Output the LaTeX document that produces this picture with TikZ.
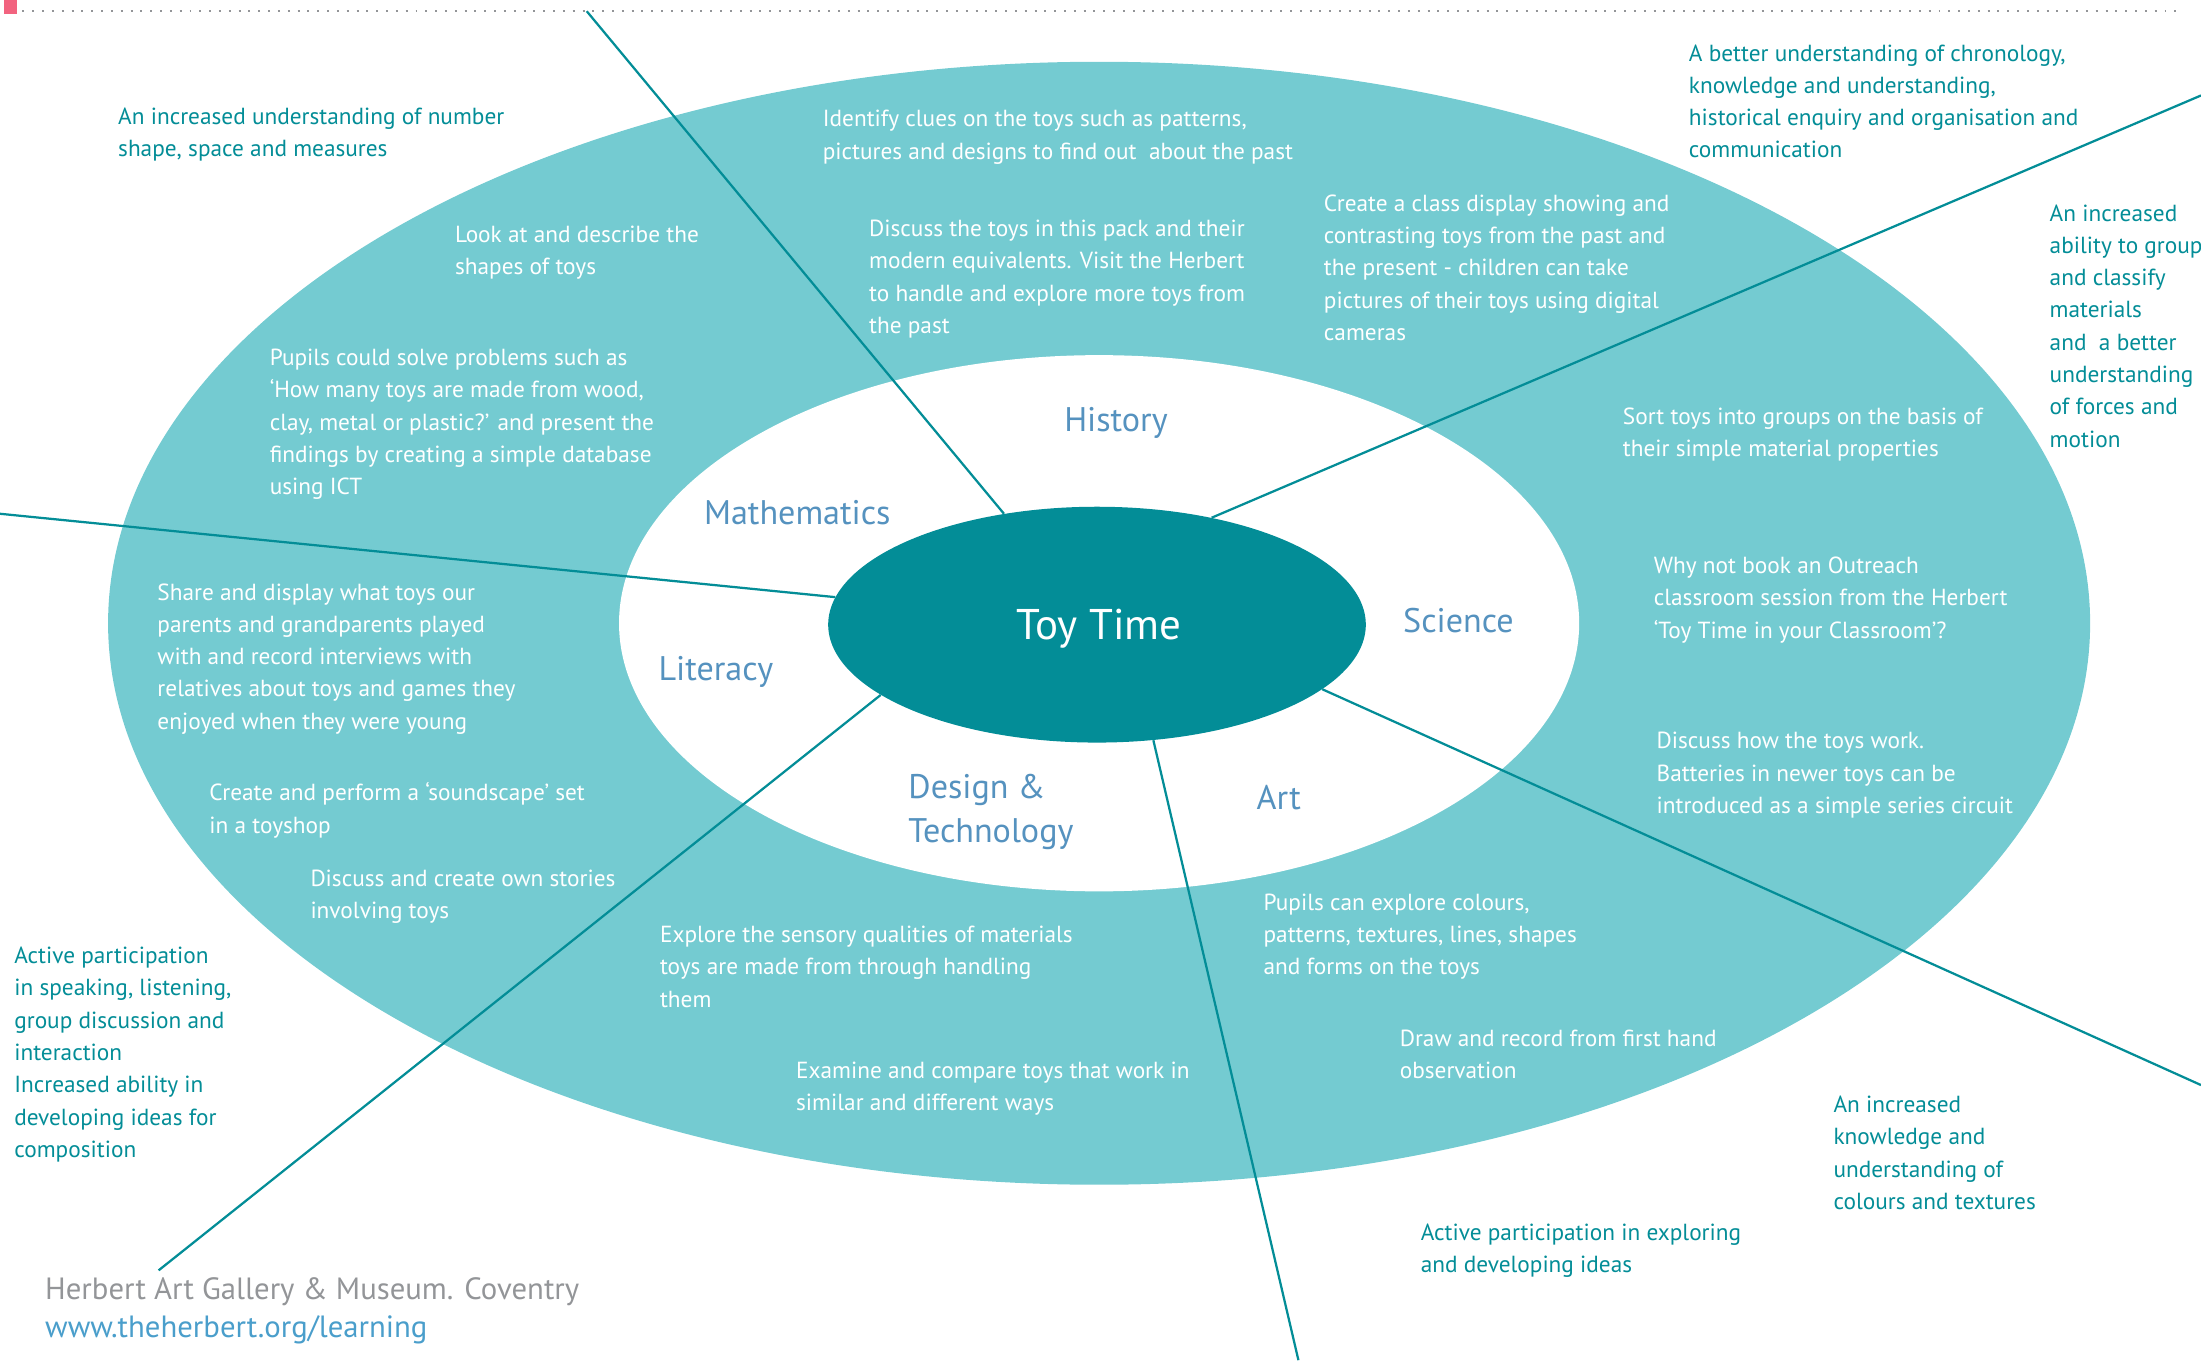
\documentclass[tikz,border=0pt]{standalone}
\usepackage{fontspec}
\setmainfont{PT Sans}
\usepackage{tikz}
\usetikzlibrary{shapes.geometric}
\usepackage{xcolor}
\definecolor{turquoise}{HTML}{74CBD1}
\definecolor{canard}{HTML}{038D97}
\definecolor{bleu}{HTML}{5592BF}
\definecolor{gris}{HTML}{939598}
\definecolor{lien}{HTML}{4A9ECB}
\definecolor{rose}{HTML}{F2637F}

\begin{document}
\begin{tikzpicture}[x = 1pt, y = -1pt,
    texte/.style = {anchor = north west, align = left, inner sep = 0pt,
        font = \fontsize{16.6}{23}\selectfont},
    blanc/.style = {texte, text = white},
    dehors/.style = {texte, text = canard},
    matiere/.style = {inner sep = 0pt, text = bleu,
        font = \fontsize{24.3}{32}\selectfont},
    trait/.style = {draw = canard, line width = 1.6pt}]
\useasboundingbox (0, 0) rectangle (1568, 969);

% Filet pointillé du haut
\fill[rose] (3, 0) rectangle (12, 10);
\draw[gris, line width = 1.4pt, dash pattern = on 1.4pt off 5.6pt] (16, 8) -- (1550, 8);

% Les trois ellipses
\node[ellipse, fill = turquoise, inner sep = 0pt, minimum width = 1412pt,
    minimum height = 800pt] (anneau) at (783, 444) {};
\node[ellipse, fill = white, inner sep = 0pt, minimum width = 684pt,
    minimum height = 382pt] (creux) at (783, 444) {};

% Extrémités libres des traits
\foreach \x/\y/\nom in {418/8/h1, 1568/68/h2, 0/366/h3, 113/905/h4, 925/969/h5, 1568/773/h6}{
    \coordinate (\nom) at (\x, \y);
}

% Le disque central (d'abord sans couleur, pour accrocher les traits)
\path node[ellipse, inner sep = 0pt, minimum width = 383pt,
    minimum height = 168pt] (centre) at (781.5, 445) {};

\foreach \nom/\a in {h1/130.8, h2/43.7, h3/174.5, h4/198, h5/296.3, h6/344.6}{
    \draw[trait] (\nom) -- (centre.\a);
}

\node[ellipse, fill = canard, inner sep = 0pt, minimum width = 383pt,
    minimum height = 168pt] (disque) at (781.5, 445) {};
\node[text = white, inner sep = 0pt, font = \fontsize{30.6}{36}\selectfont] (titre) at (783, 448) {Toy Time};

% Les matières
\foreach \x/\y/\nom/\texte in {795/301/hist/History, 568/365/math/Mathematics,
    1039/442/sci/Science, 510/479/lit/Literacy, 911/568/art/Art}{
    \node[matiere] (\nom) at (\x, \y) {\texte};
}
\node[matiere, anchor = north west, align = left] (dt) at (647, 551) {Design \&\\Technology};

% Activités (texte blanc)
\foreach \x/\y/\texte [count = \i] in {
    586/84/{Identify clues on the toys such as patterns,\\pictures and designs to find out~ about the past},
    324/166/{Look at and describe the\\shapes of toys},
    619/162/{Discuss the toys in this pack and their\\modern equivalents. Visit the Herbert\\to handle and explore more toys from\\the past},
    943/144/{Create a class display showing and\\contrasting toys from the past and\\the present - children can take\\pictures of their toys using digital\\cameras},
    192/254/{Pupils could solve problems such as\\‘How many toys are made from wood,\\clay, metal or plastic?’ and present the\\findings by creating a simple database\\using ICT},
    1156/296/{Sort toys into groups on the basis of\\their simple material properties},
    112/421/{Share and display what toys our\\parents and grandparents played\\with and record interviews with\\relatives about toys and games they\\enjoyed when they were young},
    1178/402/{Why not book an Outreach\\classroom session from the Herbert\\‘Toy Time in your Classroom’?},
    1180/527/{Discuss how the toys work.\\Batteries in newer toys can be\\introduced as a simple series circuit},
    149/563/{Create and perform a ‘soundscape’ set\\in a toyshop},
    221/625/{Discuss and create own stories\\involving toys},
    900/642/{Pupils can explore colours,\\patterns, textures, lines, shapes\\and forms on the toys},
    470/665/{Explore the sensory qualities of materials\\toys are made from through handling\\them},
    997/739/{Draw and record from first hand\\observation},
    567/762/{Examine and compare toys that work in\\similar and different ways}}{
    \node[blanc] (act\i) at (\x, \y - 5.5) {\texte};
}

% Objectifs (texte extérieur)
\foreach \x/\y/\texte [count = \i] in {
    84/82/{An increased understanding of number\\shape, space and measures},
    1203/37/{A better understanding of chronology,\\knowledge and understanding,\\historical enquiry and organisation and\\communication},
    1460/151/{An increased\\ability to group\\and classify\\materials\\and~ a better\\understanding\\of forces and\\motion},
    10/680/{Active participation\\in speaking, listening,\\group discussion and\\interaction\\Increased ability in\\developing ideas for\\composition},
    1306/786/{An increased\\knowledge and\\understanding of\\colours and textures},
    1012/877/{Active participation in exploring\\and developing ideas}}{
    \node[dehors] (obj\i) at (\x, \y - 5.5) {\texte};
}

% Pied de page
\node[anchor = west, inner sep = 0pt, text = gris, font = \fontsize{21.9}{28}\selectfont] (musee) at (32, 920) {Herbert Art Gallery \& Museum. Coventry};
\node[anchor = west, inner sep = 0pt, text = lien, font = \fontsize{21.9}{28}\selectfont] (site) at (32, 947) {www.theherbert.org/learning};
\end{tikzpicture}
\end{document}
